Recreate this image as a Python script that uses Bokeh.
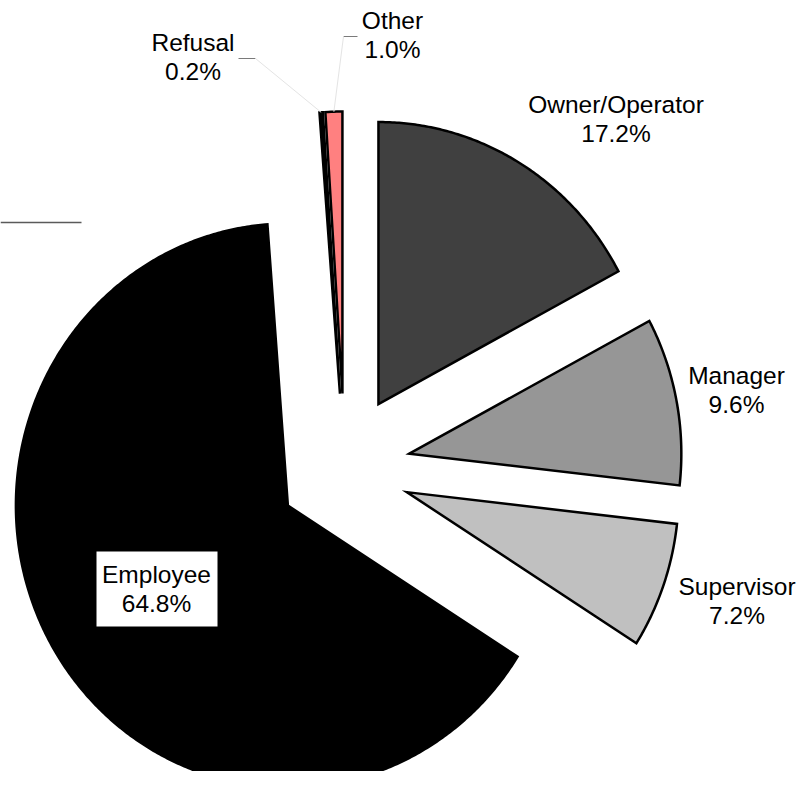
import numpy as np
from bokeh.plotting import figure
from bokeh.models import Range1d, ColumnDataSource
from bokeh.core.properties import value
from bokeh.embed import file_html
from bokeh.resources import INLINE

# ---- data ----
categories = ["Owner/Operator", "Manager", "Supervisor", "Employee", "Refusal", "Other"]
shares = [17.2, 9.6, 7.2, 64.8, 0.2, 1.0]
colors = ["#404040", "#969696", "#C0C0C0", "#000000", "#000000", "#FF8080"]
pct_labels = [f"{v:.1f}%" for v in shares]

# label anchors (pixels)
label_x = [615.5, 736, 736.5, 156, 192.5, 392]
label_y = [104, 375, 586, 574, 42, 20]

# ---- geometry (pixel data space, y grows downward) ----
CX, CY = 344.0, 467.0   # pie centre
EX, EY = 66.0, 74.0     # explosion distance
RX, RY = 272.0, 282.0   # radius

W, H = 796, 771
p = figure(width=W, height=H, x_range=Range1d(0, W), y_range=Range1d(H, 0),
           output_backend="svg", toolbar_location=None, min_border=0)
p.axis.visible = False
p.grid.visible = False
p.outline_line_color = None
p.background_fill_color = "white"
p.border_fill_color = "white"

total = sum(shares)
xs, ys, mids, verts = [], [], [], []
cum = 0.0
for s in shares:
    a0 = np.deg2rad(90 - 360 * cum / total)
    a1 = np.deg2rad(90 - 360 * (cum + s) / total)
    cum += s
    mid = (a0 + a1) / 2
    vx = CX + EX * np.cos(mid)
    vy = CY - EY * np.sin(mid)
    t = np.linspace(a0, a1, max(4, int(abs(a1 - a0) * 120)))
    xs.append([vx] + list(vx + RX * np.cos(t)))
    ys.append([vy] + list(vy - RY * np.sin(t)))
    mids.append(mid)
    verts.append((vx, vy))

src = ColumnDataSource(dict(xs=xs, ys=ys, color=colors))
p.patches("xs", "ys", source=src, fill_color="color", line_color="black",
          line_width=2.5, line_join="miter")

# stray rule at top-left (as in reference)
p.segment(x0=[0], y0=[222], x1=[81], y1=[222], line_color="#5a5a5a", line_width=1.5)

# leader lines for the two tiny slices (Refusal idx 4, Other idx 5)
lead_start_x = [238, 343]
lead_start_y = [58, 36]
lead_end_x = [255, 357]
for k, idx in enumerate([4, 5]):
    vx, vy = verts[idx]
    ax = vx + RX * np.cos(mids[idx])
    ay = vy - RY * np.sin(mids[idx])
    p.segment(x0=[lead_start_x[k]], y0=[lead_start_y[k]], x1=[lead_end_x[k]], y1=[lead_start_y[k]],
              line_color="#7a7a7a", line_width=1)
    jx = lead_end_x[k] if idx == 4 else lead_start_x[k]
    p.segment(x0=[jx], y0=[lead_start_y[k]], x1=[ax], y1=[ay],
              line_color="#e4e4e4", line_width=1)

# white box behind the Employee label
p.quad(left=[96], right=[217], top=[551], bottom=[626], fill_color="white", line_color=None)

font = value("Liberation Sans")
p.text(x=label_x, y=label_y, text=categories, text_align="center",
       text_baseline="alphabetic", text_font=font, text_font_size="24.5px", text_color="black")
p.text(x=label_x, y=[v + 29 for v in label_y], text=pct_labels, text_align="center",
       text_baseline="alphabetic", text_font=font, text_font_size="24.5px", text_color="black")

open("out.html", "w").write(file_html(p, INLINE))
